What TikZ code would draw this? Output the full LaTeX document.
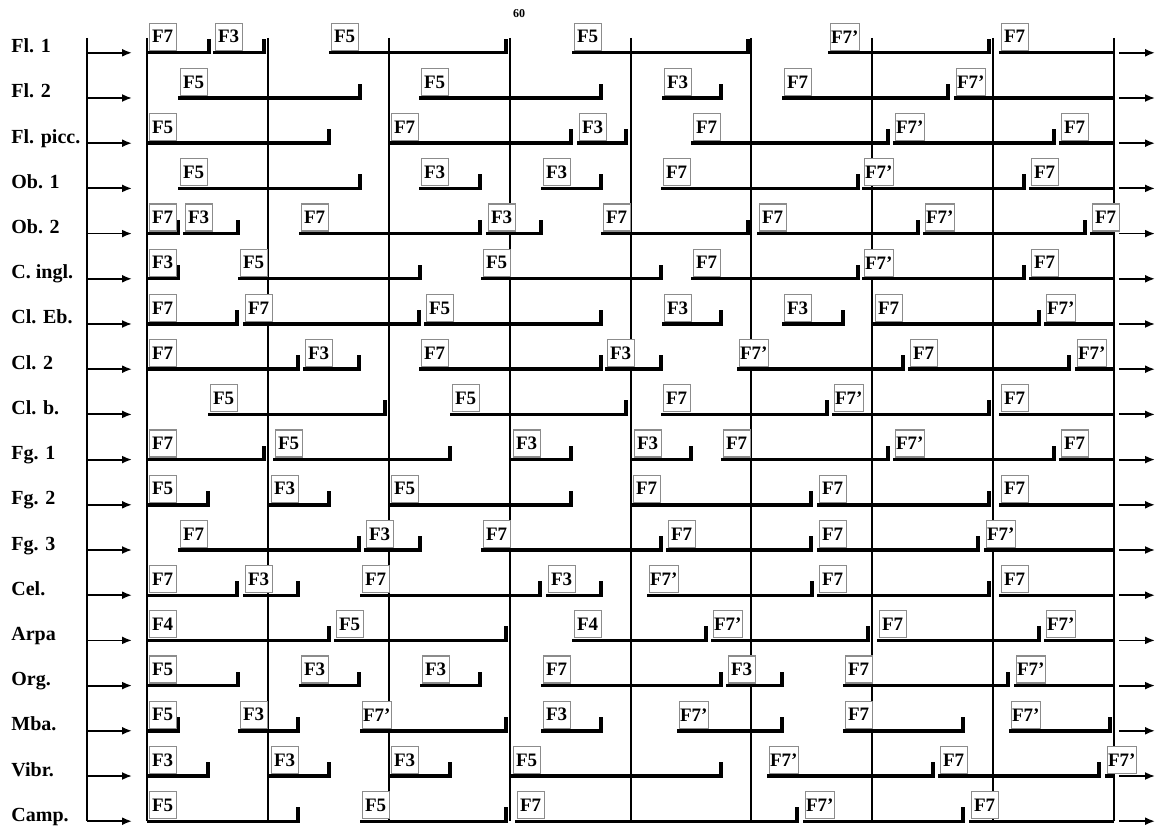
\documentclass[tikz,border=0pt]{standalone}
\usepackage{fontspec}
\setmainfont{Liberation Serif}
\usetikzlibrary{arrows.meta}
\tikzset{
  sc-grid/.style={line width=1pt, draw=black},
  sc-bar/.style={line width=1.7pt, line join=miter, line cap=butt, draw=black},
  sc-box/.style={draw=black!45, line width=0.6pt, fill=white,
    anchor=south west, inner sep=0.5pt, minimum width=13.5pt,
    minimum height=13.5pt, font=\fontsize{9.5}{10}\selectfont\bfseries},
  sc-arrow/.style={-{Latex[length=5pt,width=4pt]}, line width=0.9pt},
  sc-label/.style={anchor=base west, inner sep=0pt,
    font=\fontsize{10}{11}\selectfont\bfseries}
}
\newcounter{segno}
% one entry: row, start, end (tick), label
\newcommand{\seg}[4]{%
  \pgfmathsetmacro\ry{52.8+45.2*#1}%
  \stepcounter{segno}%
  \draw[sc-bar] (#2,\ry) -- (#3,\ry) -- ++(0,-14);
  \node[sc-box] (box\arabic{segno}) at (#2+1.5,\ry-2) {#4};}
% last entry of a row, runs to the closing line
\newcommand{\segl}[3]{%
  \pgfmathsetmacro\ry{52.8+45.2*#1}%
  \stepcounter{segno}%
  \draw[sc-bar] (#2,\ry) -- (1114,\ry);
  \node[sc-box] (box\arabic{segno}) at (#2+1.5,\ry-2) {#3};}

\begin{document}
\begin{tikzpicture}[x=0.5pt, y=-0.5pt]
\useasboundingbox (0,0) rectangle (1156,828);

% --- Bar lines ---
\foreach \k in {0,...,8}
  \draw[sc-grid] ({147+120.875*\k},38) -- ({147+120.875*\k},821.2);
\node[font=\fontsize{6}{7}\selectfont\bfseries, inner sep=0pt] (bar60) at (519,14) {60};

% --- Instruments ---
\foreach \lab [count=\i from 0] in {Fl. 1,Fl. 2,Fl. picc.,Ob. 1,Ob. 2,C. ingl.,
    Cl. Eb.,Cl. 2,Cl. b.,Fg. 1,Fg. 2,Fg. 3,Cel.,Arpa,Org.,Mba.,Vibr.,Camp.} {
  \pgfmathsetmacro\ry{52.8+45.2*\i}
  \node[sc-label] (lab\i) at (11,\ry) {\lab};
  \coordinate (in\i) at (87,\ry);
  \coordinate (st\i) at (132,\ry);
  \coordinate (tl\i) at (1119,\ry);
  \coordinate (out\i) at (1155,\ry);
  \draw[sc-arrow] (in\i) -- (st\i);
  \draw[sc-arrow] (tl\i) -- (out\i);
}
\draw[sc-grid] (87,38) -- (in17);

% --- Entries ---
\seg{0}{147}{209}{F7} \seg{0}{213}{264}{F3} \seg{0}{329}{506}{F5}
\seg{0}{572}{748}{F5} \seg{0}{828}{989}{F7'} \segl{0}{999}{F7}

\seg{1}{178}{360}{F5} \seg{1}{419}{601}{F5} \seg{1}{662}{721}{F3}
\seg{1}{782}{948}{F7} \segl{1}{954}{F7'}

\seg{2}{147}{329}{F5} \seg{2}{389}{571}{F7} \seg{2}{577}{626}{F3}
\seg{2}{691}{888}{F7} \seg{2}{893}{1054}{F7'} \segl{2}{1059}{F7}

\seg{3}{178}{360}{F5} \seg{3}{419}{480}{F3} \seg{3}{541}{601}{F3}
\seg{3}{661}{858}{F7} \seg{3}{862}{1024}{F7'} \segl{3}{1029}{F7}

\seg{4}{147}{178}{F7} \seg{4}{183}{238}{F3} \seg{4}{299}{480}{F7}
\seg{4}{486}{541}{F3} \seg{4}{601}{748}{F7} \seg{4}{757}{918}{F7}
\seg{4}{923}{1085}{F7'} \segl{4}{1090}{F7}

\seg{5}{147}{178}{F3} \seg{5}{238}{420}{F5} \seg{5}{481}{661}{F5}
\seg{5}{691}{858}{F7} \seg{5}{862}{1024}{F7'} \segl{5}{1029}{F7}

\seg{6}{147}{237}{F7} \seg{6}{243}{419}{F7} \seg{6}{424}{601}{F5}
\seg{6}{662}{721}{F3} \seg{6}{782}{843}{F3} \seg{6}{873}{1039}{F7}
\segl{6}{1044}{F7'}

\seg{7}{147}{298}{F7} \seg{7}{303}{359}{F3} \seg{7}{419}{601}{F7}
\seg{7}{605}{661}{F3} \seg{7}{737}{903}{F7'} \seg{7}{908}{1069}{F7}
\segl{7}{1075}{F7'}

\seg{8}{208}{385}{F5} \seg{8}{450}{626}{F5} \seg{8}{661}{827}{F7}
\seg{8}{832}{989}{F7'} \segl{8}{999}{F7}

\seg{9}{147}{264}{F7} \seg{9}{273}{450}{F5} \seg{9}{511}{571}{F3}
\seg{9}{632}{691}{F3} \seg{9}{721}{888}{F7} \seg{9}{893}{1054}{F7'}
\segl{9}{1059}{F7}

\seg{10}{147}{208}{F5} \seg{10}{269}{329}{F3} \seg{10}{389}{571}{F5}
\seg{10}{631}{811}{F7} \seg{10}{817}{989}{F7} \segl{10}{999}{F7}

\seg{11}{178}{359}{F7} \seg{11}{364}{420}{F3} \seg{11}{481}{661}{F7}
\seg{11}{666}{811}{F7} \seg{11}{817}{978}{F7} \segl{11}{984}{F7'}

\seg{12}{147}{237}{F7} \seg{12}{243}{298}{F3} \seg{12}{360}{540}{F7}
\seg{12}{546}{601}{F3} \seg{12}{647}{812}{F7'} \seg{12}{817}{989}{F7}
\segl{12}{999}{F7}

\seg{13}{147}{329}{F4} \seg{13}{334}{506}{F5} \seg{13}{572}{706}{F4}
\seg{13}{711}{868}{F7'} \seg{13}{877}{1039}{F7} \segl{13}{1044}{F7'}

\seg{14}{147}{238}{F5} \seg{14}{299}{359}{F3} \seg{14}{420}{480}{F3}
\seg{14}{541}{721}{F7} \seg{14}{726}{782}{F3} \seg{14}{843}{1008}{F7}
\segl{14}{1014}{F7'}

\seg{15}{147}{178}{F5} \seg{15}{238}{298}{F3} \seg{15}{360}{506}{F7'}
\seg{15}{541}{601}{F3} \seg{15}{677}{782}{F7'} \seg{15}{843}{963}{F7}
\seg{15}{1009}{1110}{F7'}

\seg{16}{147}{208}{F3} \seg{16}{269}{329}{F3} \seg{16}{389}{450}{F3}
\seg{16}{511}{721}{F5} \seg{16}{767}{933}{F7'} \seg{16}{938}{1099}{F7}
\segl{16}{1105}{F7'}

\seg{17}{147}{298}{F5} \seg{17}{360}{506}{F5} \seg{17}{515}{797}{F7}
\seg{17}{803}{963}{F7'} \segl{17}{969}{F7}
\end{tikzpicture}
\end{document}
